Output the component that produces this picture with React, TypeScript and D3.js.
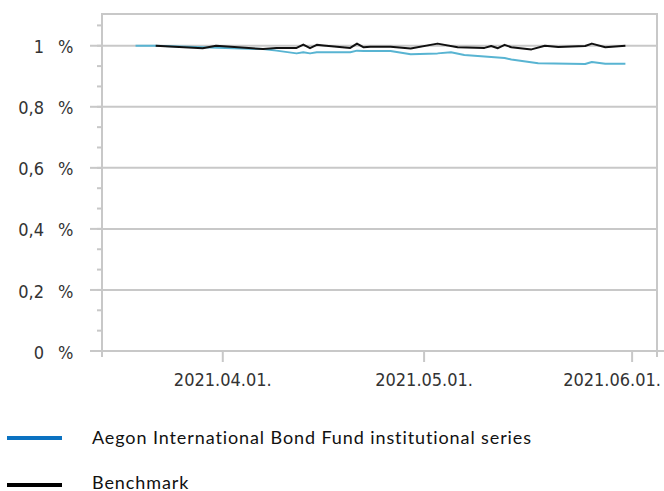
import React from 'react';
import * as d3 from 'd3';

// Fund series (cumulative performance, %)
const fundDates = [
  '2021-03-19', '2021-03-22', '2021-03-29', '2021-04-07', '2021-04-09', '2021-04-12',
  '2021-04-13', '2021-04-14', '2021-04-15', '2021-04-20', '2021-04-21', '2021-04-22',
  '2021-04-26', '2021-04-29', '2021-05-03', '2021-05-05', '2021-05-07', '2021-05-11',
  '2021-05-13', '2021-05-14', '2021-05-18', '2021-05-25', '2021-05-26', '2021-05-28',
  '2021-05-31'
];
const fundValues = [
  1.0, 1.0, 0.995, 0.989, 0.984, 0.975,
  0.979, 0.975, 0.979, 0.979, 0.984, 0.983,
  0.983, 0.972, 0.975, 0.979, 0.970, 0.963,
  0.960, 0.955, 0.943, 0.940, 0.947, 0.941,
  0.941
];

// Benchmark series
const benchDates = [
  '2021-03-22', '2021-03-29', '2021-03-31', '2021-04-07', '2021-04-09', '2021-04-12',
  '2021-04-13', '2021-04-14', '2021-04-15', '2021-04-16', '2021-04-20', '2021-04-21',
  '2021-04-22', '2021-04-23', '2021-04-26', '2021-04-29', '2021-05-03', '2021-05-06',
  '2021-05-10', '2021-05-11', '2021-05-12', '2021-05-13', '2021-05-14', '2021-05-17',
  '2021-05-19', '2021-05-21', '2021-05-25', '2021-05-26', '2021-05-28', '2021-05-31'
];
const benchValues = [
  1.0, 0.992, 1.0, 0.989, 0.993, 0.993,
  1.004, 0.992, 1.003, 1.001, 0.993, 1.007,
  0.995, 0.997, 0.997, 0.991, 1.007, 0.995,
  0.993, 0.999, 0.992, 1.003, 0.995, 0.988,
  1.0, 0.996, 0.999, 1.007, 0.995, 1.0
];

const yTicks = [0, 0.2, 0.4, 0.6, 0.8, 1];
const yTickLabels = ['0', '0,2', '0,4', '0,6', '0,8', '1'];
const xTickDates = ['2021-04-01', '2021-05-01', '2021-06-01'];
const xTickLabels = ['2021.04.01.', '2021.05.01.', '2021.06.01.'];
const seriesNames = ['Aegon International Bond Fund institutional series', 'Benchmark'];

const W = 664;
const H = 491;
const left = 102;
const right = 657;
const top = 14;
const bottom = 351;
const gridColor = '#c8c8c8';
const tickFont = '"DejaVu Sans Condensed", "DejaVu Sans", sans-serif';
const legendFont = 'Lato, sans-serif';

export default function App() {
  const parse = d3.timeParse('%Y-%m-%d');
  const x = d3.scaleTime()
    .domain([parse('2021-03-14')!, d3.timeHour.offset(parse('2021-06-04')!, 17)])
    .range([left, right]);
  const y = d3.scaleLinear().domain([0, 1.104]).range([bottom, top]);

  const line = d3.line<[Date, number]>()
    .x(d => x(d[0]))
    .y(d => y(d[1]));

  const fund: [Date, number][] = fundDates.map((d, i) => [parse(d)!, fundValues[i]]);
  const bench: [Date, number][] = benchDates.map((d, i) => [parse(d)!, benchValues[i]]);

  // minor ticks every 1/15 %
  const minorTicks = d3.range(0, 17).map(i => i * 0.2 / 3).filter(v => v <= 1.1);

  return (
    <div style={{ position: 'absolute', left: 0, top: 0 }}>
      <svg width={W} height={H} style={{ display: 'block', background: '#fff' }}>
        {/* grid lines */}
        {yTicks.slice(1).map(t => (
          <line key={'g' + t} x1={left} x2={right} y1={y(t)} y2={y(t)} stroke={gridColor} strokeWidth={2} />
        ))}
        {/* frame */}
        <line x1={left} x2={right} y1={top} y2={top} stroke={gridColor} strokeWidth={2} />
        <line x1={left} x2={left} y1={top - 1} y2={bottom + 6} stroke={gridColor} strokeWidth={2} />
        <line x1={right} x2={right} y1={top - 1} y2={bottom + 6} stroke={gridColor} strokeWidth={2} />
        <line x1={90} x2={W} y1={bottom} y2={bottom} stroke={gridColor} strokeWidth={2} />

        {/* y ticks */}
        {minorTicks.map((t, i) => (
          <line key={'m' + i} x1={97} x2={left} y1={y(t)} y2={y(t)} stroke={gridColor} strokeWidth={2} />
        ))}
        {yTicks.map(t => (
          <line key={'t' + t} x1={90} x2={left} y1={y(t)} y2={y(t)} stroke={gridColor} strokeWidth={2} />
        ))}
        {yTicks.map((t, i) => (
          <g key={'l' + t} fontFamily={tickFont} fontSize={18} fill="#333">
            <text x={44} y={y(t)} dy="0.42em" textAnchor="end">{yTickLabels[i]}</text>
            <text x={58} y={y(t)} dy="0.42em">%</text>
          </g>
        ))}

        {/* x ticks; the last label is pulled in so it stays inside the picture */}
        {xTickDates.map((d, i) => {
          const px = x(parse(d)!);
          const last = i === xTickDates.length - 1;
          return (
            <g key={d}>
              <line x1={px} x2={px} y1={bottom} y2={bottom + 11} stroke={gridColor} strokeWidth={2} />
              <text x={last ? 661 : px} y={386} textAnchor={last ? 'end' : 'middle'}
                fontFamily={tickFont} fontSize={18} fill="#333">
                {xTickLabels[i]}
              </text>
            </g>
          );
        })}

        {/* series */}
        <path d={line(fund) ?? ''} fill="none" stroke="#58b4d2" strokeWidth={2} strokeLinejoin="round" />
        <path d={line(bench) ?? ''} fill="none" stroke="#111" strokeWidth={2} strokeLinejoin="round" />

        {/* legend */}
        <line x1={7} x2={62} y1={438} y2={438} stroke="#0b72c1" strokeWidth={4} />
        <text x={92} y={444} fontFamily={legendFont} fontSize={18} letterSpacing={0.9} fill="#111">{seriesNames[0]}</text>
        <line x1={7} x2={62} y1={485} y2={485} stroke="#000" strokeWidth={4} />
        <text x={92} y={489} fontFamily={legendFont} fontSize={18} letterSpacing={0.9} fill="#111">{seriesNames[1]}</text>
      </svg>
    </div>
  );
}
